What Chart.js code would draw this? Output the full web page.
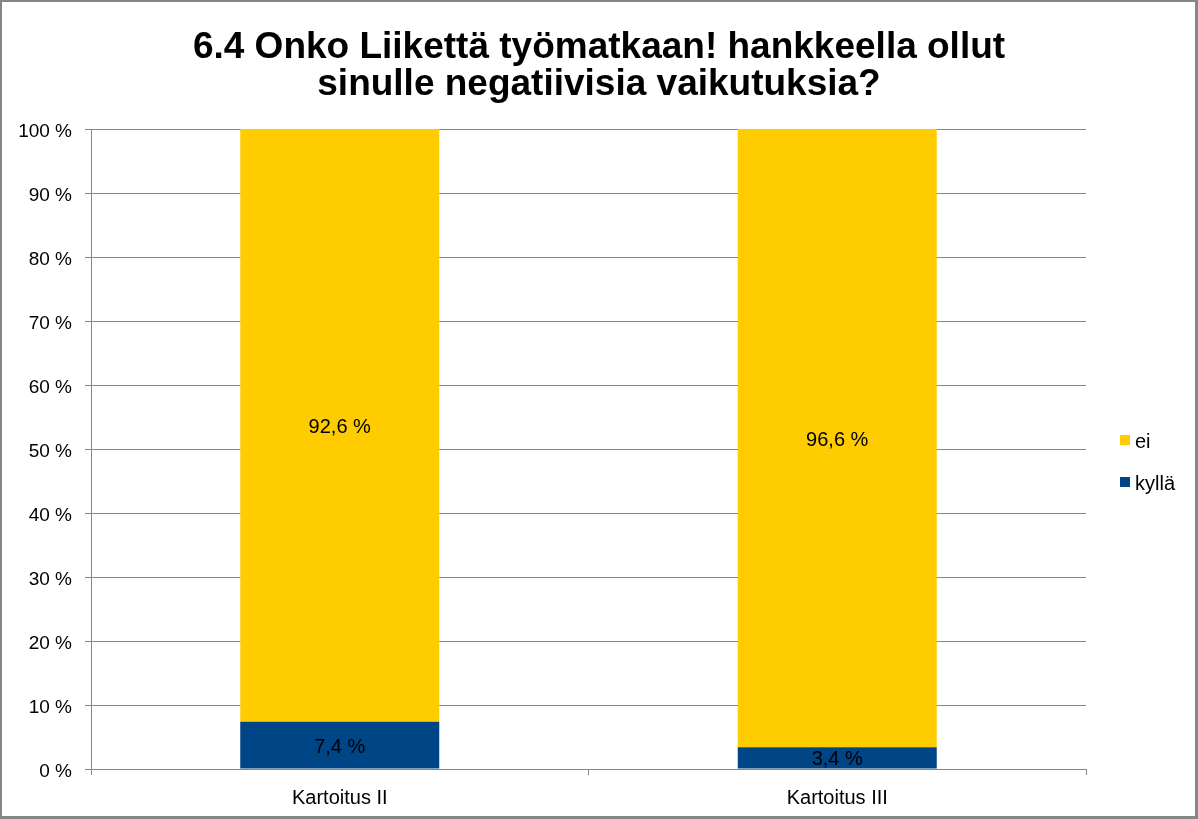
<!DOCTYPE html>
<html>
<head>
<meta charset="utf-8">
<script src="https://cdn.jsdelivr.net/npm/chart.js@4/dist/chart.umd.min.js"></script>
<style>
  html, body { margin: 0; padding: 0; background: #fff; }
  #wrap { width: 1198px; height: 819px; position: relative; }
</style>
</head>
<body>
<div id="wrap"><canvas id="chart"></canvas></div>
<script>
'use strict';

// data
const categories = ['Kartoitus II', 'Kartoitus III'];
const kylla = [7.4, 3.4];
const ei = [92.6, 96.6];
const seriesNames = ['kyllä', 'ei'];
const seriesColors = ['#004586', '#FFCC00'];
const yTicks = [0, 10, 20, 30, 40, 50, 60, 70, 80, 90, 100];
const titleLines = ['6.4 Onko Liikettä työmatkaan! hankkeella ollut', 'sinulle negatiivisia vaikutuksia?'];

const FONT = "'Liberation Sans', Arial, sans-serif";
const GRID = '#868686';

const pct = v => v.toFixed(1).replace('.', ',') + ' %';

// labels in the middle of each bar piece
const barLabels = {
  id: 'barLabels',
  afterDatasetsDraw(chart) {
    const ctx = chart.ctx;
    ctx.save();
    ctx.font = '20px ' + FONT;
    ctx.fillStyle = '#000';
    ctx.textAlign = 'center';
    ctx.textBaseline = 'middle';
    chart.data.datasets.forEach((ds, i) => {
      chart.getDatasetMeta(i).data.forEach((bar, j) => {
        ctx.fillText(pct(ds.data[j]), bar.x, (bar.y + bar.base) / 2 + 2);
      });
    });
    ctx.restore();
  }
};

// legend on the right, 'ei' on top
const sideLegend = {
  id: 'sideLegend',
  afterDraw(chart) {
    const ctx = chart.ctx;
    const a = chart.chartArea;
    const mid = (a.top + a.bottom) / 2;
    const items = [
      { text: seriesNames[1], color: seriesColors[1], y: mid - 9 },
      { text: seriesNames[0], color: seriesColors[0], y: mid + 33 }
    ];
    ctx.save();
    ctx.font = '20px ' + FONT;
    ctx.textBaseline = 'middle';
    ctx.textAlign = 'left';
    items.forEach(it => {
      ctx.fillStyle = it.color;
      ctx.fillRect(a.right + 34, it.y - 5, 10, 10);
      ctx.fillStyle = '#000';
      ctx.fillText(it.text, a.right + 49, it.y + 2);
    });
    ctx.restore();
  }
};

// grey frame round the whole chart
const frame = {
  id: 'frame',
  afterDraw(chart) {
    const ctx = chart.ctx;
    const w = chart.width, h = chart.height;
    ctx.save();
    ctx.fillStyle = GRID;
    ctx.fillRect(0, 0, w, 2);
    ctx.fillRect(0, 0, 2, h);
    ctx.fillRect(w - 3, 0, 3, h);
    ctx.fillRect(0, h - 3, w, 3);
    ctx.restore();
  }
};

new Chart(document.getElementById('chart'), {
  type: 'bar',
  data: {
    labels: categories,
    datasets: [
      { label: seriesNames[0], data: kylla, backgroundColor: seriesColors[0] },
      { label: seriesNames[1], data: ei, backgroundColor: seriesColors[1] }
    ]
  },
  options: {
    responsive: true,
    maintainAspectRatio: false,
    animation: false,
    datasets: { bar: { categoryPercentage: 1, barPercentage: 0.4 } },
    layout: { padding: 0 },
    plugins: {
      legend: { display: false },
      tooltip: { enabled: false },
      title: {
        display: true,
        text: titleLines,
        color: '#000',
        font: { family: FONT, size: 37, weight: 'bold', lineHeight: 1.0 },
        padding: { top: 29, bottom: 26 }
      }
    },
    scales: {
      x: {
        stacked: true,
        grid: { drawOnChartArea: false, drawTicks: true, tickLength: 6, color: GRID },
        border: { color: GRID },
        ticks: { color: '#000', padding: 11, font: { family: FONT, size: 20 } },
        afterFit: s => { s.height = 50; }
      },
      y: {
        stacked: true,
        min: 0,
        max: 100,
        afterBuildTicks: s => { s.ticks = yTicks.map(v => ({ value: v })); },
        grid: { color: GRID, tickLength: 6 },
        border: { color: GRID },
        ticks: { color: '#000', padding: 13, labelOffset: 3, font: { family: FONT, size: 19 }, callback: v => v + ' %' },
        afterFit: s => { s.width = 91; }
      },
      side: {
        position: 'right',
        display: true,
        grid: { display: false },
        border: { display: false },
        ticks: { display: false },
        afterFit: s => { s.width = 112; }
      }
    }
  },
  plugins: [barLabels, sideLegend, frame]
});
</script>
</body>
</html>
